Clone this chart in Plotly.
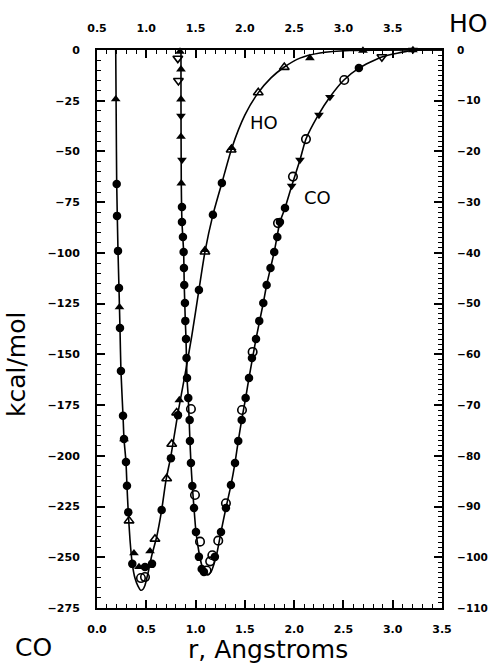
import plotly.graph_objects as go

# ---------------- HO (top x-axis / right y-axis) ----------------
ho_curve_r = [0.690, 0.695, 0.700, 0.713, 0.723, 0.733, 0.743, 0.764, 0.774, 0.794, 0.804, 0.817,
              0.835, 0.858, 0.885, 0.916, 0.943, 0.967, 0.987, 1.020, 1.055, 1.105, 1.156, 1.200,
              1.250, 1.321, 1.392, 1.463, 1.534, 1.595, 1.676, 1.767, 1.868, 2.001, 2.133, 2.265,
              2.397, 2.559, 2.762, 3.066, 3.999]
ho_curve_e = [0.0, -13.8, -26.4, -39.6, -46.9, -54.8, -63.3, -72.1, -76.7, -81.2, -85.9, -91.1,
              -96.6, -101.3, -104.1, -105.7, -106.5, -106.3, -105.5, -102.9, -99.7, -96.0, -90.7, -84.8,
              -80.0, -71.6, -64.1, -56.2, -47.3, -39.8, -32.5, -26.2, -19.3, -12.8, -8.5, -5.5,
              -3.4, -1.6, -0.6, -0.1, 0.0]

ho_fc_r = [0.700, 0.703, 0.713, 0.723, 0.733, 0.743, 0.764, 0.774, 0.794, 0.804, 0.817, 0.858,
           0.987, 1.058, 1.156, 1.250, 1.321, 1.534, 1.676, 1.767]
ho_fc_e = [-26.4, -32.7, -39.6, -46.9, -54.8, -63.3, -72.1, -76.7, -81.2, -85.9, -91.1, -101.3,
           -101.9, -101.3, -90.7, -80.5, -72.0, -47.3, -32.5, -26.2]

ho_ft_r = [0.690, 0.728, 0.774, 0.875, 0.926, 1.038, 1.335, 1.595, 1.866, 2.660, 3.198, 3.705]
ho_ft_e = [-9.7, -50.7, -76.7, -99.2, -101.9, -98.8, -69.0, -39.4, -19.3, -1.6, -0.1, 0.0]

ho_ot_r = [0.825, 1.088, 1.207, 1.258, 1.308, 1.595, 1.861, 2.136, 2.400]
ho_ot_e = [-92.8, -96.4, -84.5, -77.7, -71.5, -39.8, -19.7, -8.4, -3.4]

ho_oc_r = [0.946, 0.987]
ho_oc_e = [-104.1, -103.9]

# ---------------- CO (bottom x-axis / left y-axis) ----------------
co_curve_r = [0.852, 0.852, 0.855, 0.862, 0.879, 0.885, 0.896, 0.903, 0.913, 0.926, 0.943, 0.953,
              0.967, 0.984, 1.004, 1.034, 1.065, 1.095, 1.126, 1.156, 1.187, 1.217, 1.258, 1.308,
              1.359, 1.400, 1.433, 1.468, 1.508, 1.542, 1.613, 1.687, 1.721, 1.798, 1.856, 1.907,
              1.975, 2.059, 2.120, 2.246, 2.363, 2.505, 2.657, 2.890, 3.205, 3.5]
co_curve_e = [0.0, -24.6, -65.5, -84.8, -99.5, -115.8, -133.6, -142.4, -161.6, -171.5, -192.7, -203.5,
              -214.9, -225.7, -237.5, -247.4, -254.3, -257.8, -258.7, -257.3, -253.3, -247.9, -237.5, -225.7,
              -214.4, -203.5, -192.7, -182.3, -171.5, -161.6, -142.4, -124.7, -115.8, -99.5, -84.8, -77.9,
              -67.0, -54.2, -43.9, -32.0, -23.2, -14.8, -8.9, -3.4, -0.2, 0.0]

co_fc_r = [0.862, 0.862, 0.872, 0.879, 0.882, 0.885, 0.892, 0.896, 0.903, 0.908, 0.913, 0.926,
           0.940, 0.943, 0.953, 0.967, 0.984, 1.004, 1.034, 1.062, 1.085, 1.196, 1.258, 1.308,
           1.359, 1.400, 1.433, 1.468, 1.508, 1.542, 1.572, 1.613, 1.646, 1.687, 1.721, 1.760,
           1.798, 1.829, 1.856, 1.907, 2.657]
co_fc_e = [-77.4, -84.8, -92.2, -99.5, -107.4, -115.8, -124.7, -133.5, -142.4, -151.8, -161.6, -171.5,
           -182.3, -192.7, -203.5, -214.9, -225.7, -237.5, -249.8, -255.8, -257.2, -249.8, -237.5, -225.7,
           -214.4, -203.5, -192.7, -182.3, -171.5, -161.6, -151.8, -142.4, -133.5, -124.7, -115.8, -107.4,
           -99.5, -92.2, -84.8, -77.9, -8.9]

co_fut_r = [0.842, 0.852, 0.852, 0.852, 0.855]
co_fut_e = [-0.8, -9.5, -24.3, -42.7, -65.7]

co_fdt_r = [0.852, 0.862, 1.975, 2.059, 2.252, 2.363, 3.205]
co_fdt_e = [-32.5, -54.2, -67.0, -54.2, -32.0, -23.2, 0.0]

co_odt_r = [0.820, 0.826, 2.890]
co_odt_e = [-4.1, -15.1, -3.4]

co_oc_r = [0.953, 0.994, 1.045, 1.112, 1.148, 1.170, 1.230, 1.308, 1.471, 1.579, 1.836, 1.988, 2.120, 2.508]
co_oc_e = [-176.9, -219.3, -242.3, -256.5, -252.0, -249.0, -241.8, -223.4, -177.4, -148.8, -85.3, -62.4, -43.9, -14.8]

# tick labels
bottom_ticks = [0.0, 0.5, 1.0, 1.5, 2.0, 2.5, 3.0, 3.5]
top_ticks = [0.5, 1.0, 1.5, 2.0, 2.5, 3.0, 3.5]

BLK = "black"
MS = 8.5

fig = go.Figure()

# curves
fig.add_trace(go.Scatter(x=co_curve_r, y=co_curve_e, mode="lines", xaxis="x", yaxis="y",
                         line=dict(color=BLK, width=1.6, shape="spline", smoothing=0.6),
                         showlegend=False, hoverinfo="skip"))
fig.add_trace(go.Scatter(x=ho_curve_r, y=ho_curve_e, mode="lines", xaxis="x2", yaxis="y2",
                         line=dict(color=BLK, width=1.6, shape="spline", smoothing=0.6),
                         showlegend=False, hoverinfo="skip"))


def pts(x, y, sym, xa, ya, open_=False):
    if open_:
        mk = dict(symbol=sym, size=MS, color=BLK, line=dict(color=BLK, width=1.6))
    else:
        mk = dict(symbol=sym, size=MS, color=BLK, line=dict(color=BLK, width=0))
    return go.Scatter(x=x, y=y, mode="markers", xaxis=xa, yaxis=ya, marker=mk,
                      cliponaxis=False, showlegend=False)


# CO markers
fig.add_trace(pts(co_fc_r, co_fc_e, "circle", "x", "y"))
fig.add_trace(pts(co_fut_r, co_fut_e, "triangle-up", "x", "y"))
fig.add_trace(pts(co_fdt_r, co_fdt_e, "triangle-down", "x", "y"))
fig.add_trace(pts(co_odt_r, co_odt_e, "triangle-down-open", "x", "y", True))
fig.add_trace(pts(co_oc_r, co_oc_e, "circle-open", "x", "y", True))
# HO markers
fig.add_trace(pts(ho_fc_r, ho_fc_e, "circle", "x2", "y2"))
fig.add_trace(pts(ho_ft_r, ho_ft_e, "triangle-up", "x2", "y2"))
fig.add_trace(pts(ho_ot_r, ho_ot_e, "triangle-up-open", "x2", "y2", True))
fig.add_trace(pts(ho_oc_r, ho_oc_e, "circle-open", "x2", "y2", True))


def axis_style(standoff, size=11):
    return dict(ticks="inside", ticklen=8, tickwidth=1.5, tickcolor=BLK,
                showline=True, linecolor=BLK, linewidth=2, showgrid=False, zeroline=False,
                tickfont=dict(family="DejaVu Sans", size=size, color=BLK, weight="bold"),
                ticklabelstandoff=standoff, automargin=False)


fig.update_layout(
    width=492, height=667,
    margin=dict(l=97, r=50, t=50, b=59, autoexpand=False),
    paper_bgcolor="white", plot_bgcolor="white",
    xaxis=dict(range=[0, 3.5], tickvals=bottom_ticks, tickformat=".1f",
               minor=dict(dtick=0.1, tick0=0, ticks="inside", ticklen=4, tickcolor=BLK, tickwidth=1.2),
               **axis_style(10)),
    yaxis=dict(range=[-275, 0], dtick=25, tick0=0,
               minor=dict(dtick=5, tick0=0, ticks="inside", ticklen=4, tickcolor=BLK, tickwidth=1.2),
               **axis_style(13)),
    xaxis2=dict(range=[0.5, 4.0], overlaying="x", side="top", anchor="y",
                tickvals=top_ticks, tickformat=".1f",
                minor=dict(dtick=0.1, tick0=0.5, ticks="inside", ticklen=4, tickcolor=BLK, tickwidth=1.2),
                **axis_style(12)),
    yaxis2=dict(range=[-110, 0], overlaying="y", side="right", anchor="x", dtick=10, tick0=0,
                minor=dict(dtick=1, tick0=0, ticks="inside", ticklen=4, tickcolor=BLK, tickwidth=1.2),
                **axis_style(11, 10.5)),
)

big = dict(family="DejaVu Sans", size=25, color=BLK)
mid = dict(family="DejaVu Sans", size=18, color=BLK)
fig.add_annotation(text="HO", xref="paper", yref="paper", x=1.075, y=1.048,
                   showarrow=False, font=big, xanchor="center", yanchor="middle")
fig.add_annotation(text="CO", xref="paper", yref="paper", x=-0.183, y=-0.070,
                   showarrow=False, font=big, xanchor="center", yanchor="middle")
fig.add_annotation(text="r, Angstroms", xref="paper", yref="paper", x=0.496, y=-0.075,
                   showarrow=False, font=big, xanchor="center", yanchor="middle")
fig.add_annotation(text="kcal/mol", xref="paper", yref="paper", x=-0.235, y=0.437,
                   showarrow=False, font=big, textangle=-90, xanchor="center", yanchor="middle")
fig.add_annotation(text="HO", xref="x", yref="y", x=1.694, y=-35.5,
                   showarrow=False, font=mid, xanchor="center", yanchor="middle")
fig.add_annotation(text="CO", xref="x", yref="y", x=2.241, y=-72.9,
                   showarrow=False, font=mid, xanchor="center", yanchor="middle")

fig.write_html("out.html")
